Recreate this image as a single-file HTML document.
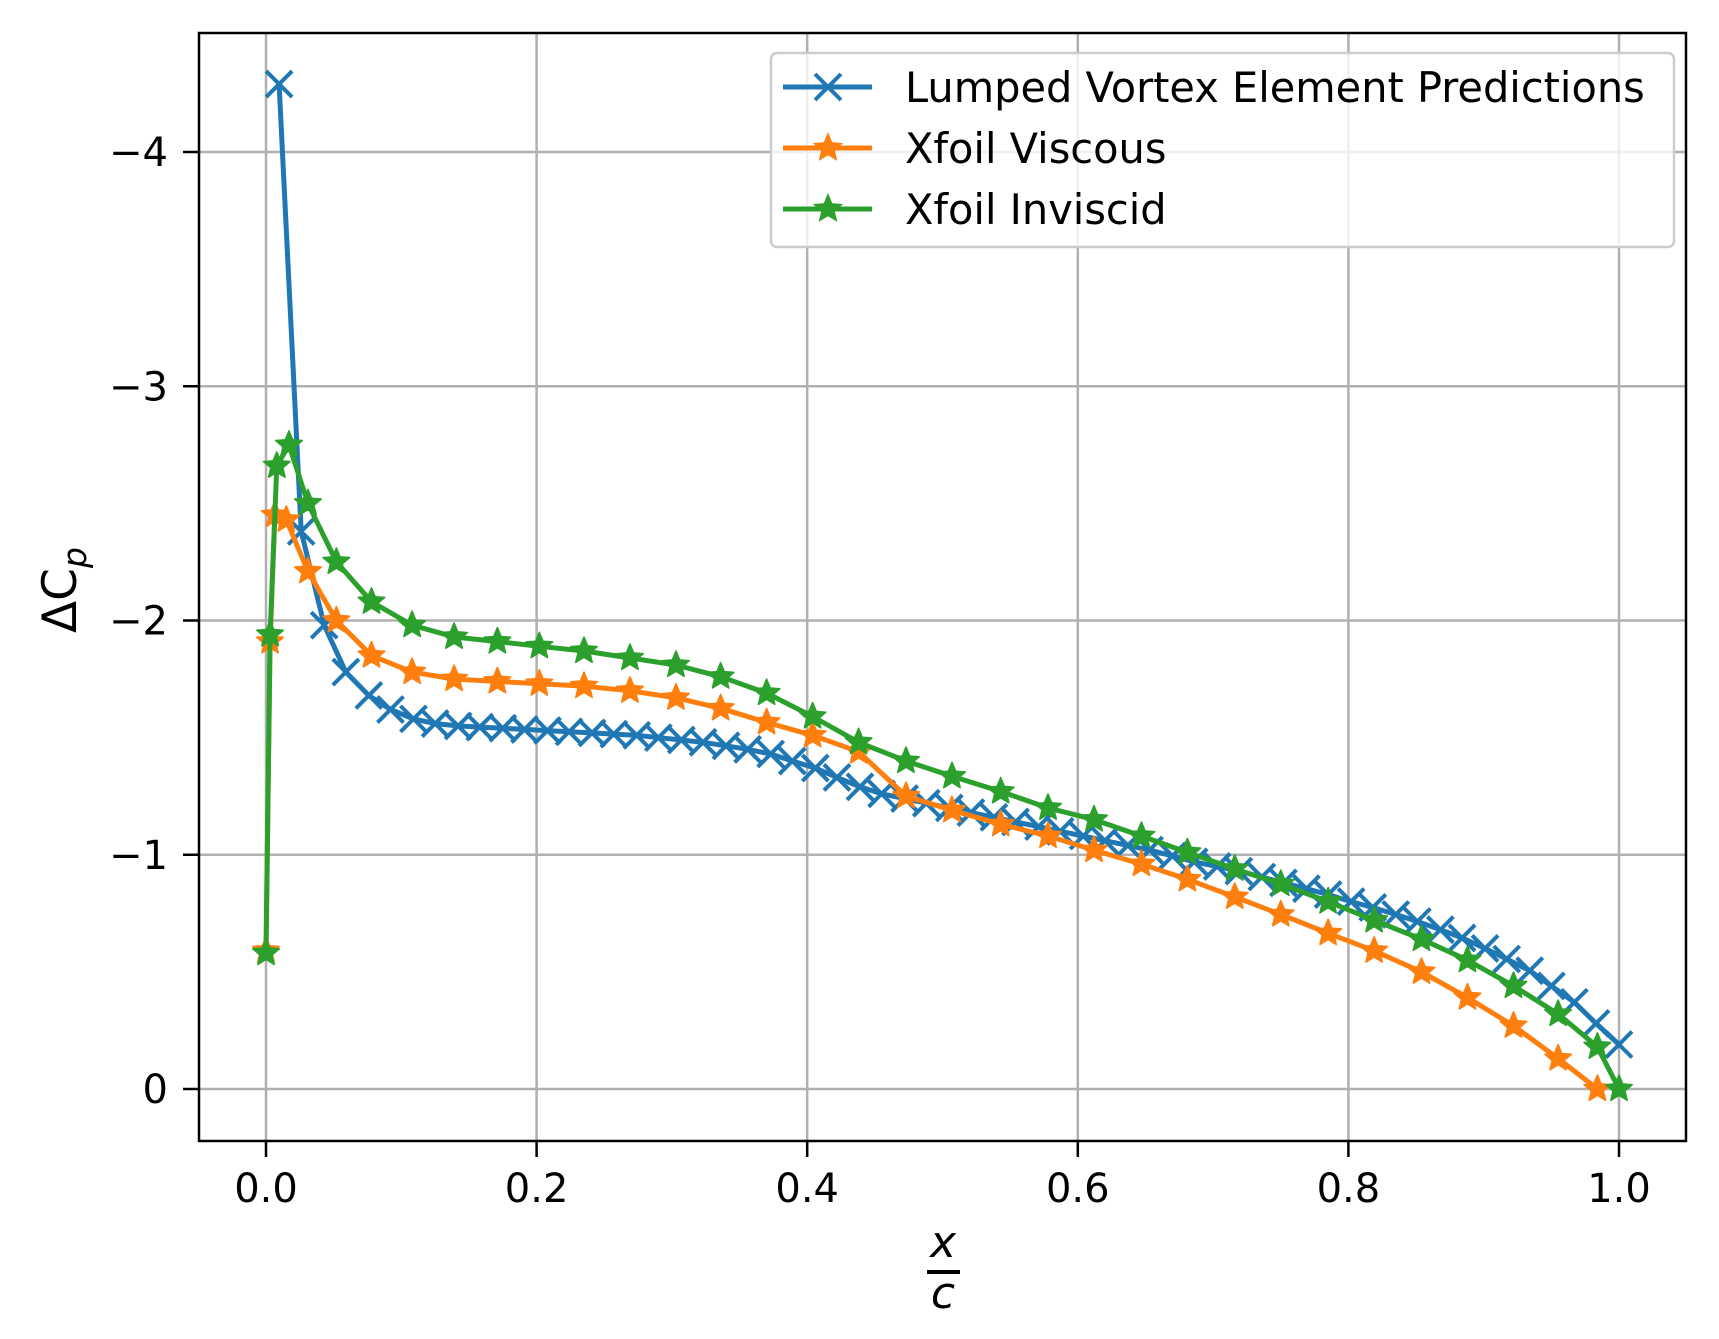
<!DOCTYPE html>
<html><head><meta charset="utf-8"><style>
html,body{margin:0;padding:0;background:#fff;}
svg{display:block;font-family:"DejaVu Sans","Liberation Sans",sans-serif;}
</style></head><body>
<svg id="chart" width="1719" height="1339" viewBox="0 0 1719 1339" xmlns="http://www.w3.org/2000/svg">
<rect x="0" y="0" width="1719" height="1339" fill="#fff"/>
<g id="grid"></g>
<g id="series"></g>
<rect x="199" y="33" width="1487" height="1108" fill="none" stroke="#000" stroke-width="2.5"/>
<g id="ticks"></g>
<text transform="translate(76,590) rotate(-90)" text-anchor="middle" font-size="47">ΔC<tspan font-style="italic" font-size="33" dy="10">p</tspan></text>
<g>
<text x="943" y="1257" text-anchor="middle" font-size="44" font-style="italic">x</text>
<rect x="927" y="1270" width="33" height="4" fill="#000"/>
<text x="943" y="1308" text-anchor="middle" font-size="44" font-style="italic">c</text>
</g>
<g id="legend"></g>
</svg>
<script>
const xTicks = [0, 0.2, 0.4, 0.6, 0.8, 1.0];
const xTickLabels = ["0.0", "0.2", "0.4", "0.6", "0.8", "1.0"];
const yTicks = [-4, -3, -2, -1, 0];
const yTickLabels = ["\u22124", "\u22123", "\u22122", "\u22121", "0"];

const lveX = [0.0097,0.026,0.043,0.059,0.076,0.092,0.109,0.125,0.142,0.158,0.175,0.191,0.208,0.224,0.241,0.257,0.274,0.290,0.307,0.323,0.340,0.356,0.373,0.389,0.406,0.422,0.439,0.455,0.472,0.488,0.505,0.521,0.538,0.554,0.571,0.587,0.604,0.620,0.637,0.653,0.670,0.686,0.703,0.719,0.736,0.752,0.769,0.785,0.802,0.818,0.835,0.851,0.868,0.884,0.901,0.917,0.934,0.950,0.967,0.983,1.0];
const lveY = [-4.29,-2.38,-1.98,-1.78,-1.68,-1.62,-1.58,-1.56,-1.55,-1.545,-1.54,-1.535,-1.53,-1.525,-1.52,-1.515,-1.51,-1.50,-1.49,-1.48,-1.465,-1.45,-1.43,-1.40,-1.37,-1.33,-1.29,-1.26,-1.24,-1.22,-1.20,-1.18,-1.16,-1.14,-1.12,-1.10,-1.08,-1.06,-1.04,-1.02,-0.995,-0.97,-0.95,-0.93,-0.905,-0.88,-0.855,-0.83,-0.80,-0.775,-0.745,-0.715,-0.68,-0.645,-0.60,-0.555,-0.505,-0.44,-0.37,-0.28,-0.19];

const viscX = [0,0.003,0.0065,0.015,0.031,0.052,0.078,0.108,0.139,0.171,0.202,0.235,0.269,0.303,0.336,0.370,0.404,0.438,0.473,0.507,0.543,0.578,0.612,0.647,0.681,0.716,0.750,0.785,0.819,0.854,0.888,0.922,0.955,0.984];
const viscY = [-0.59,-1.91,-2.45,-2.43,-2.21,-2.00,-1.85,-1.78,-1.75,-1.74,-1.73,-1.72,-1.70,-1.67,-1.625,-1.565,-1.51,-1.44,-1.25,-1.19,-1.13,-1.08,-1.02,-0.96,-0.895,-0.82,-0.745,-0.665,-0.59,-0.50,-0.39,-0.27,-0.13,0.0];

const invX = [0,0.003,0.008,0.017,0.031,0.052,0.078,0.108,0.139,0.171,0.202,0.235,0.269,0.303,0.336,0.370,0.404,0.438,0.473,0.507,0.543,0.578,0.612,0.647,0.681,0.716,0.750,0.785,0.819,0.854,0.888,0.922,0.955,0.984,1.0];
const invY = [-0.58,-1.94,-2.66,-2.75,-2.50,-2.25,-2.08,-1.98,-1.93,-1.91,-1.89,-1.87,-1.84,-1.81,-1.76,-1.69,-1.59,-1.48,-1.40,-1.335,-1.27,-1.20,-1.15,-1.08,-1.01,-0.94,-0.875,-0.80,-0.72,-0.64,-0.55,-0.44,-0.32,-0.18,0.0];

const NS = "http://www.w3.org/2000/svg";
function sx(v){ return 266 + v*1353; }
function sy(v){ return 1089 + v*234.25; }
function mk(tag, attrs, parent){
  const e = document.createElementNS(NS, tag);
  for (const k in attrs) e.setAttribute(k, attrs[k]);
  parent.appendChild(e);
  return e;
}
const grid = document.getElementById('grid');
const ticks = document.getElementById('ticks');
xTicks.forEach((t,i)=>{
  const g = mk('line',{x1:sx(t),x2:sx(t),y1:33,y2:1141,stroke:'#b0b0b0','stroke-width':2.5},grid);
  
  
  const tk = mk('line',{x1:sx(t),x2:sx(t),y1:1141,y2:1157,stroke:'#000','stroke-width':2.5},ticks);
  
  
  const lb = mk('text',{x:sx(t),y:1202,'text-anchor':'middle','font-size':40},ticks);
  lb.textContent = xTickLabels[i];
  
  
});
yTicks.forEach((t,i)=>{
  const g = mk('line',{x1:199,x2:1686,y1:sy(t),y2:sy(t),stroke:'#b0b0b0','stroke-width':2.5},grid);
  
  
  const tk = mk('line',{x1:183,x2:199,y1:sy(t),y2:sy(t),stroke:'#000','stroke-width':2.5},ticks);
  
  
  const lb = mk('text',{x:168,y:sy(t)+14,'text-anchor':'end','font-size':40},ticks);
  lb.textContent = yTickLabels[i];
  
  
});
function starPath(cx,cy,r){
  let d='';
  for(let k=0;k<10;k++){
    const rr = k%2===0 ? r : r*0.45;
    const a = -Math.PI/2 + k*Math.PI/5;
    d += (k===0?'M':'L') + (cx+rr*Math.cos(a)).toFixed(1) + ',' + (cy+rr*Math.sin(a)).toFixed(1);
  }
  return d+'Z';
}
function xPath(cx,cy,r){
  return `M${cx-r},${cy-r}L${cx+r},${cy+r}M${cx-r},${cy+r}L${cx+r},${cy-r}`;
}
const series = document.getElementById('series');
function drawSeries(xs, ys, color, marker, name){
  const g = mk('g',{},series);
  
  
  const pts = xs.map((x,i)=>sx(x).toFixed(1)+','+sy(ys[i]).toFixed(1)).join(' ');
  const pl = mk('polyline',{points:pts,fill:'none',stroke:color,'stroke-width':5,'stroke-linejoin':'round'},g);
  
  
  xs.forEach((x,i)=>{
    let m;
    if(marker==='x') m = mk('path',{d:xPath(sx(x),sy(ys[i]),13),stroke:color,'stroke-width':4,fill:'none'},g);
    else m = mk('path',{d:starPath(sx(x),sy(ys[i]),14),fill:color,stroke:color,'stroke-width':1.5,'stroke-linejoin':'round'},g);
    
    
  });
}
drawSeries(lveX, lveY, '#1f77b4', 'x', 'lumped-vortex-series');
drawSeries(viscX, viscY, '#ff7f0e', 'star', 'xfoil-viscous-series');
drawSeries(invX, invY, '#2ca02c', 'star', 'xfoil-inviscid-series');

const legend = document.getElementById('legend');
const lbg = mk('rect',{x:771,y:53,width:903,height:194,rx:6,fill:'#fff','fill-opacity':0.8,stroke:'#cccccc','stroke-width':2.5},legend);


const legItems = [['Lumped Vortex Element Predictions','#1f77b4','x',87],['Xfoil Viscous','#ff7f0e','star',148],['Xfoil Inviscid','#2ca02c','star',209]];
legItems.forEach(it=>{
  const g = mk('g',{},legend);
  
  
  mk('line',{x1:783,x2:872,y1:it[3],y2:it[3],stroke:it[1],'stroke-width':5},g);
  if(it[2]==='x') mk('path',{d:xPath(828,it[3],13),stroke:it[1],'stroke-width':4,fill:'none'},g);
  else mk('path',{d:starPath(828,it[3],14),fill:it[1],stroke:it[1],'stroke-width':1.5},g);
  const t = mk('text',{x:905,y:it[3]+15,'font-size':41.5},g);
  t.textContent = it[0];
});
</script>
</body></html>
